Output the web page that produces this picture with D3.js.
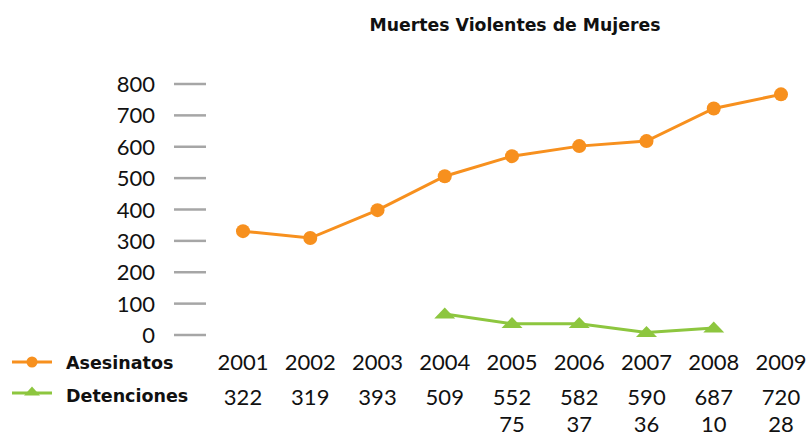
<!DOCTYPE html>
<html>
<head>
<meta charset="utf-8">
<script src="https://cdn.jsdelivr.net/npm/d3@7"></script>
<style>
  body { margin: 0; background: #fff; }
  svg { display: block; font-family: Lato, "Open Sans", sans-serif; }
  .bold { font-family: "DejaVu Sans", sans-serif; font-weight: bold; }
</style>
</head>
<body>
<svg width="807" height="437"></svg>
<script>
const years = ['2001','2002','2003','2004','2005','2006','2007','2008','2009'];
// values as plotted in the picture
const asesinatos = [331, 309, 398, 506, 570, 602, 618, 722, 767];
const detYears = ['2004','2005','2006','2007','2008'];
const detenciones = [67, 36, 36, 8, 22];
// values as printed in the table under the chart
const tablaAsesinatos = ['322','319','393','509','552','582','590','687','720'];
const tablaDetYears = ['2005','2006','2007','2008','2009'];
const tablaDetenciones = ['75','37','36','10','28'];
const yTicks = [0, 100, 200, 300, 400, 500, 600, 700, 800];

const ORANGE = '#f7901e';
const GREEN = '#8dc63f';

const svg = d3.select('svg');

const x = d3.scalePoint().domain(years).range([243, 781]);
const y = d3.scaleLinear().domain([0, 800]).range([335, 84]);

svg.append('text')
  .attr('class', 'bold')
  .attr('x', 515).attr('y', 31)
  .attr('text-anchor', 'middle')
  .attr('font-size', 17.3)
  .attr('fill', '#111')
  .text('Muertes Violentes de Mujeres');

// y axis: short grey dashes with labels
const yAxis = svg.append('g');
yAxis.selectAll('line')
  .data(yTicks)
  .enter()
  .append('line')
  .attr('x1', 174).attr('x2', 206)
  .attr('y1', function(d) { return y(d); })
  .attr('y2', function(d) { return y(d); })
  .attr('stroke', '#a6a6a6').attr('stroke-width', 2.5);
yAxis.selectAll('text')
  .data(yTicks)
  .enter()
  .append('text')
  .attr('x', 155)
  .attr('y', function(d) { return y(d) + 8; })
  .attr('text-anchor', 'end')
  .attr('font-size', 22)
  .attr('fill', '#111')
  .text(function(d) { return d; });

const line = d3.line()
  .x(function(d) { return x(d[0]); })
  .y(function(d) { return y(d[1]); });

const aData = years.map(function(yr, i) { return [yr, asesinatos[i]]; });
const dData = detYears.map(function(yr, i) { return [yr, detenciones[i]]; });

svg.append('path')
  .datum(aData)
  .attr('d', line)
  .attr('fill', 'none')
  .attr('stroke', ORANGE).attr('stroke-width', 3);
svg.append('g').selectAll('circle')
  .data(aData)
  .enter()
  .append('circle')
  .attr('cx', function(d) { return x(d[0]); })
  .attr('cy', function(d) { return y(d[1]); })
  .attr('r', 7)
  .attr('fill', ORANGE);

function tri(w, h) {
  return 'M0,' + (-h * 0.6) + 'L' + (w / 2) + ',' + (h * 0.4) + 'L' + (-w / 2) + ',' + (h * 0.4) + 'Z';
}

svg.append('path')
  .datum(dData)
  .attr('d', line)
  .attr('fill', 'none')
  .attr('stroke', GREEN).attr('stroke-width', 3);
svg.append('g').selectAll('path')
  .data(dData)
  .enter()
  .append('path')
  .attr('d', tri(21, 11))
  .attr('transform', function(d) { return 'translate(' + x(d[0]) + ',' + y(d[1]) + ')'; })
  .attr('fill', GREEN);

// legend
const legend = svg.append('g');
legend.append('line')
  .attr('x1', 12).attr('x2', 52).attr('y1', 362).attr('y2', 362)
  .attr('stroke', ORANGE).attr('stroke-width', 3);
legend.append('circle')
  .attr('cx', 32).attr('cy', 362).attr('r', 5.5).attr('fill', ORANGE);
legend.append('text')
  .attr('class', 'bold')
  .attr('x', 66).attr('y', 369)
  .attr('font-size', 17.5).attr('fill', '#111')
  .text('Asesinatos');
legend.append('line')
  .attr('x1', 12).attr('x2', 52).attr('y1', 393).attr('y2', 393)
  .attr('stroke', GREEN).attr('stroke-width', 3);
legend.append('path')
  .attr('d', tri(16, 9))
  .attr('transform', 'translate(32,392)')
  .attr('fill', GREEN);
legend.append('text')
  .attr('class', 'bold')
  .attr('x', 66).attr('y', 402)
  .attr('font-size', 17.5).attr('fill', '#111')
  .text('Detenciones');

// data table under the chart
const table = svg.append('g')
  .attr('font-size', 22)
  .attr('fill', '#111').attr('text-anchor', 'middle');
table.selectAll('text.year')
  .data(years)
  .enter()
  .append('text')
  .attr('class', 'year')
  .attr('x', function(d) { return x(d); })
  .attr('y', 370)
  .text(function(d) { return d; });
table.selectAll('text.ases')
  .data(tablaAsesinatos)
  .enter()
  .append('text')
  .attr('class', 'ases')
  .attr('x', function(d, i) { return x(years[i]); })
  .attr('y', 405)
  .text(function(d) { return d; });
table.selectAll('text.det')
  .data(tablaDetenciones)
  .enter()
  .append('text')
  .attr('class', 'det')
  .attr('x', function(d, i) { return x(tablaDetYears[i]); })
  .attr('y', 432)
  .text(function(d) { return d; });
</script>
</body>
</html>
